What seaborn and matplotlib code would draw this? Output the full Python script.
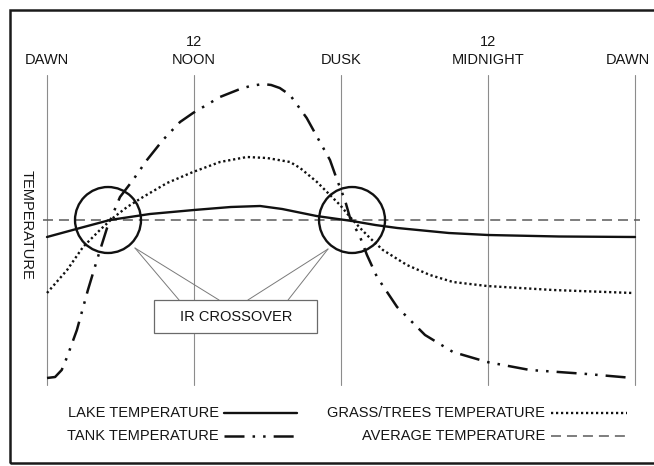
import matplotlib
matplotlib.use("Agg")
import matplotlib.pyplot as plt
import seaborn as sns
import numpy as np
from matplotlib.patches import Rectangle

sns.set_style("white")
plt.rcParams['font.family'] = ['Liberation Sans', 'DejaVu Sans']
plt.rcParams['lines.scale_dashes'] = False

# ---- data (hours after dawn, relative temperature) ----
time_marks = [0, 6, 12, 18, 24]
time_top = ["", "12", "", "12", ""]
time_labels = ["DAWN", "NOON", "DUSK", "MIDNIGHT", "DAWN"]

lake_hours = [0, 1.35, 2.57, 4.2, 6.0, 7.5, 8.7, 9.6, 11.0, 12.45, 13.4, 14.3, 16.4, 18.0, 20.9, 24.0]
lake_temp = [-1.7, -0.8, 0.0, 0.6, 1.0, 1.3, 1.4, 1.1, 0.4, -0.1, -0.5, -0.8, -1.3, -1.5, -1.65, -1.7]

tank_hours = [0, 0.33, 0.6, 0.82, 1.22, 1.67, 2.04, 2.45, 2.98, 3.51, 4.08, 4.73, 5.43, 5.96,
              7.06, 7.88, 8.3, 8.82, 9.15, 9.5, 9.92, 10.6, 11.14, 11.55, 11.84, 12.16, 12.37, 12.78,
              13.06, 13.47, 14.29, 15.43, 16.57, 17.96, 19.71, 22.04, 23.92]
tank_temp = [-15.8, -15.7, -15.0, -13.7, -11.0, -7.0, -4.0, -0.8, 2.3, 4.0, 6.0, 8.0, 9.8, 10.7,
             12.3, 13.1, 13.4, 13.6, 13.5, 13.2, 12.5, 10.2, 7.8, 6.0, 4.0, 2.0, 0.2, -1.7,
             -3.5, -5.7, -8.7, -11.5, -13.2, -14.2, -15.0, -15.4, -15.8]

grass_hours = [0, 0.82, 1.47, 2.16, 2.69, 3.27, 3.92, 4.9, 5.96, 7.06, 8.16, 8.98, 9.92, 10.33,
               11.02, 11.55, 11.96, 12.37, 12.78, 13.18, 13.71, 14.69, 15.63, 16.57, 17.96, 20.65, 23.92]
grass_temp = [-7.3, -5.0, -2.7, -1.0, 0.2, 1.3, 2.3, 3.7, 4.8, 5.8, 6.3, 6.2, 5.8, 5.2,
              3.8, 2.5, 1.5, 0.3, -0.8, -1.8, -3.0, -4.5, -5.5, -6.2, -6.6, -7.0, -7.3]

average_hours = [-0.16, 24.2]
average_temp = [0.0, 0.0]

crossover_hours = [2.49, 12.45]
crossover_temp = [0.0, 0.0]

legend_labels = ["LAKE TEMPERATURE", "TANK TEMPERATURE", "GRASS/TREES TEMPERATURE", "AVERAGE TEMPERATURE"]

# ---- styles ----
INK = "#111111"
TXT = "#151515"
GRID = "#8c8c8c"
styles = {
    "lake": dict(color=INK, linewidth=1.7, linestyle="-"),
    "tank": dict(color=INK, linewidth=1.8, linestyle=(0, (14.4, 5.8, 1.8, 5.8, 1.8, 5.8))),
    "grass": dict(color=INK, linewidth=1.7, linestyle=(0, (1.6, 2.0))),
    "avg": dict(color="#5a5a5a", linewidth=1.1, linestyle=(0, (7.2, 4.3))),
}

fig = plt.figure(figsize=(6.54, 4.66), dpi=100)
ax = fig.add_axes([0, 0, 1, 1])
ax.set_xlim(-47 / 24.5, 607 / 24.5)
ax.set_ylim(-24.6, 22.0)
ax.axis("off")

# figure border (right side falls outside the image)
ax.add_patch(Rectangle((-1.51, -24.3), 40, 45.3, fill=False, edgecolor="#1a1a1a",
                       linewidth=1.8, zorder=1))

# vertical time lines + labels
for i, (h, top, lab) in enumerate(zip(time_marks, time_top, time_labels)):
    ax.plot([h, h], [-16.5, 14.5], color=GRID, linewidth=0.8, zorder=2)
    if i == len(time_marks) - 1:
        ax.text(24.62, 16.0, lab, ha="right", va="center", fontsize=10.5, color=TXT)
    else:
        ax.text(h, 16.0, lab, ha="center", va="center", fontsize=10.5, color=TXT)
    if top:
        ax.text(h, 17.8, top, ha="center", va="center", fontsize=10.5, color=TXT)

ax.text(-0.82, -0.45, "TEMPERATURE", rotation=-90, ha="center", va="center",
        fontsize=10.5, color=TXT)

# curves
sns.lineplot(x=average_hours, y=average_temp, ax=ax, sort=False, errorbar=None, zorder=3, **styles["avg"])
sns.lineplot(x=grass_hours, y=grass_temp, ax=ax, sort=False, errorbar=None, zorder=4, **styles["grass"])
sns.lineplot(x=tank_hours, y=tank_temp, ax=ax, sort=False, errorbar=None, zorder=4, **styles["tank"])
sns.lineplot(x=lake_hours, y=lake_temp, ax=ax, sort=False, errorbar=None, zorder=5, **styles["lake"])

# crossover circles
ax.scatter(crossover_hours, crossover_temp, s=2256, facecolors="none", edgecolors=INK,
           linewidths=1.7, zorder=6)

# leader lines and callout box
leaders = [((3.59, -2.8), (5.39, -8.0)), ((3.59, -2.8), (7.02, -8.0)),
           ((11.47, -2.9), (8.2, -8.0)), ((11.47, -2.9), (9.84, -8.0))]
for (x0, y0), (x1, y1) in leaders:
    ax.plot([x0, x1], [y0, y1], color="#7a7a7a", linewidth=0.7, zorder=6)
ax.add_patch(Rectangle((4.37, -11.3), 6.65, 3.3, facecolor="white", edgecolor="#6a6a6a",
                       linewidth=0.9, zorder=7))
ax.text(7.71, -9.7, "IR CROSSOVER", ha="center", va="center", fontsize=10.5, color=TXT, zorder=8)

# legend (drawn manually)
rows = [-19.3, -21.6]
ax.text(7.02, rows[0], legend_labels[0], ha="right", va="center", fontsize=10.5, color=TXT)
ax.text(7.02, rows[1], legend_labels[1], ha="right", va="center", fontsize=10.5, color=TXT)
ax.text(20.33, rows[0], legend_labels[2], ha="right", va="center", fontsize=10.5, color=TXT)
ax.text(20.33, rows[1], legend_labels[3], ha="right", va="center", fontsize=10.5, color=TXT)
ax.plot([7.22, 10.2], [rows[0]] * 2, **styles["lake"])
ax.plot([7.22, 10.2], [rows[1]] * 2, **styles["tank"])
ax.plot([20.57, 23.67], [rows[0]] * 2, **styles["grass"])
ax.plot([20.57, 23.67], [rows[1]] * 2, **styles["avg"])

fig.savefig("out.png", dpi=100)
